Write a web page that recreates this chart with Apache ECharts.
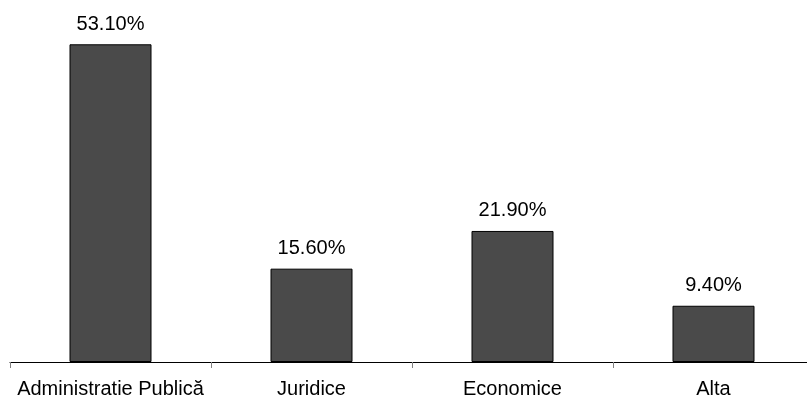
<!DOCTYPE html>
<html>
<head>
<meta charset="utf-8">
<script src="https://cdn.jsdelivr.net/npm/echarts@6/dist/echarts.min.js"></script>
<style>
  html, body { margin: 0; padding: 0; background: #fff; overflow: hidden; }
  #wrap { width: 807px; height: 399px; overflow: hidden; }
  /* canvas is a little wider than the view so the last category keeps its full width */
  #chart { width: 815px; height: 399px; }
</style>
</head>
<body>
<div id="wrap"><div id="chart"></div></div>
<script>
// Share of graduates by field of study (%)
const categories = ['Administratie Publică', 'Juridice', 'Economice', 'Alta'];
const shares = [53.1, 15.6, 21.9, 9.4];

const chart = echarts.init(document.getElementById('chart'), null, { renderer: 'canvas' });
chart.setOption({
  animation: false,
  backgroundColor: '#ffffff',
  grid: { left: 10, right: 1, top: 3, bottom: 36, containLabel: false },
  xAxis: {
    type: 'category',
    data: categories,
    axisLine: { lineStyle: { color: '#000000', width: 1 } },
    axisTick: { show: true, interval: 0, length: 6, lineStyle: { color: '#808080' } },
    axisLabel: {
      interval: 0,
      color: '#000000',
      fontFamily: 'Liberation Sans, Arial, sans-serif',
      fontSize: 20,
      margin: 17
    }
  },
  yAxis: {
    type: 'value',
    min: 0,
    max: 60,
    show: false,
    splitLine: { show: false }
  },
  series: [{
    type: 'bar',
    data: shares,
    barWidth: 82,
    itemStyle: { color: '#4a4a4a', borderColor: '#000000', borderWidth: 1 },
    label: {
      show: true,
      position: 'top',
      distance: 10,
      color: '#000000',
      fontFamily: 'Liberation Sans, Arial, sans-serif',
      fontSize: 20,
      formatter: p => p.value.toFixed(2) + '%'
    }
  }]
});
</script>
</body>
</html>
